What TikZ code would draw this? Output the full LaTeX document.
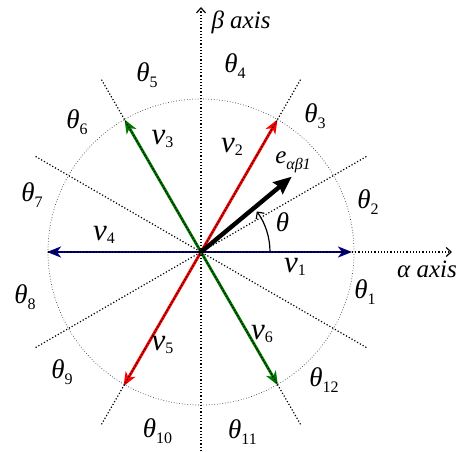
\documentclass[tikz,border=0pt]{standalone}
\usepackage{fontspec}
\setmainfont{Liberation Serif}
\usetikzlibrary{arrows.meta}

\definecolor{vnavy}{RGB}{0,0,128}
\definecolor{vgreen}{RGB}{0,120,0}
\definecolor{vred}{RGB}{255,0,0}

% sector and vector labels
\newcommand{\thlab}[1]{{\fontsize{27}{27}\selectfont\textit{θ}}\raisebox{-0.5ex}{\fontsize{16}{16}\selectfont #1}}
\newcommand{\vlab}[1]{{\fontsize{31}{31}\selectfont\textit{v}}\raisebox{-0.3ex}{\fontsize{16}{16}\selectfont #1}}

\begin{document}
\begin{tikzpicture}[x=1pt, y=1pt,
    vec/.style={line width=2.8pt, -{Stealth[length=14pt,width=11pt,inset=4pt]}},
    guide/.style={dotted, line width=1.2pt},
    axis/.style={dotted, line width=1.2pt, -{Straight Barb[length=5pt,width=9pt]}},
    lbl/.style={inner sep=0pt, font=\fontsize{25}{25}\selectfont},
]
\useasboundingbox (-201,-199) rectangle (256,252);

\coordinate (O) at (0,0);
\coordinate (V1) at (0:151);
\coordinate (V2) at (60:153);
\coordinate (V3) at (120:153);
\coordinate (V4) at (180:154);
\coordinate (V5) at (240:155);
\coordinate (V6) at (300:154);
\coordinate (E) at (39.7:118);
\coordinate (Aend) at (251,0);
\coordinate (Astart) at (-153,0);
\coordinate (Bend) at (0,245);
\coordinate (Bstart) at (0,-199);

% circle of the vector tips
\draw[dotted, line width=0.7pt, black!75] (O) circle[radius=153pt];

% voltage vectors
\draw[vec, vnavy] (O) -- (V1);
\draw[vec, vnavy] (O) -- (V4);
\draw[vec, vred] (O) -- (V2);
\draw[vec, vred] (O) -- (V5);
\draw[vec, vgreen] (O) -- (V3);
\draw[vec, vgreen] (O) -- (V6);

% sector borders
\foreach \a/\r in {30/191, 60/199, 120/199, 150/191}
  \draw[guide] (\a:\r) -- (\a+180:\r);

% axes
\draw[axis] (Astart) -- (Aend);
\draw[axis] (Bstart) -- (Bend);

% flux vector and angle
\draw[line width=4.4pt, -{Stealth[length=18pt,width=15pt,inset=2pt]}] (O) -- (E);
\draw[line width=1.2pt, -{Straight Barb[length=5pt,width=10pt]}] (0:69) arc[start angle=0, end angle=36, radius=69pt];

\node[lbl] (th) at (81.5,30) {\fontsize{27}{27}\selectfont\textit{θ}};
\node[lbl] (elab) at (92,90) {\textit{e}\raisebox{-0.5ex}{\fontsize{16}{16}\selectfont\itshape αβ1}};

\node[lbl] (alab) at (226,-17) {\textit{α axis}};
\node[lbl] (blab) at (40,230) {\textit{β axis}};

\node[lbl] (v1) at (94,-15) {\vlab{1}};
\node[lbl] (v2) at (31,105) {\vlab{2}};
\node[lbl] (v3) at (-38.5,113) {\vlab{3}};
\node[lbl] (v4) at (-97,17) {\vlab{4}};
\node[lbl] (v5) at (-38.5,-93) {\vlab{5}};
\node[lbl] (v6) at (61,-82) {\vlab{6}};

\node[lbl] (t1) at (164,-40) {\thlab{1}};
\node[lbl] (t2) at (167,50) {\thlab{2}};
\node[lbl] (t3) at (114,136) {\thlab{3}};
\node[lbl] (t4) at (34,186) {\thlab{4}};
\node[lbl] (t5) at (-54,177) {\thlab{5}};
\node[lbl] (t6) at (-124,129.5) {\thlab{6}};
\node[lbl] (t7) at (-169,57) {\thlab{7}};
\node[lbl] (t8) at (-176,-45) {\thlab{8}};
\node[lbl] (t9) at (-139,-120) {\thlab{9}};
\node[lbl] (t10) at (-43.5,-179) {\thlab{10}};
\node[lbl] (t11) at (41.5,-180) {\thlab{11}};
\node[lbl] (t12) at (123,-128) {\thlab{12}};
\end{tikzpicture}
\end{document}
